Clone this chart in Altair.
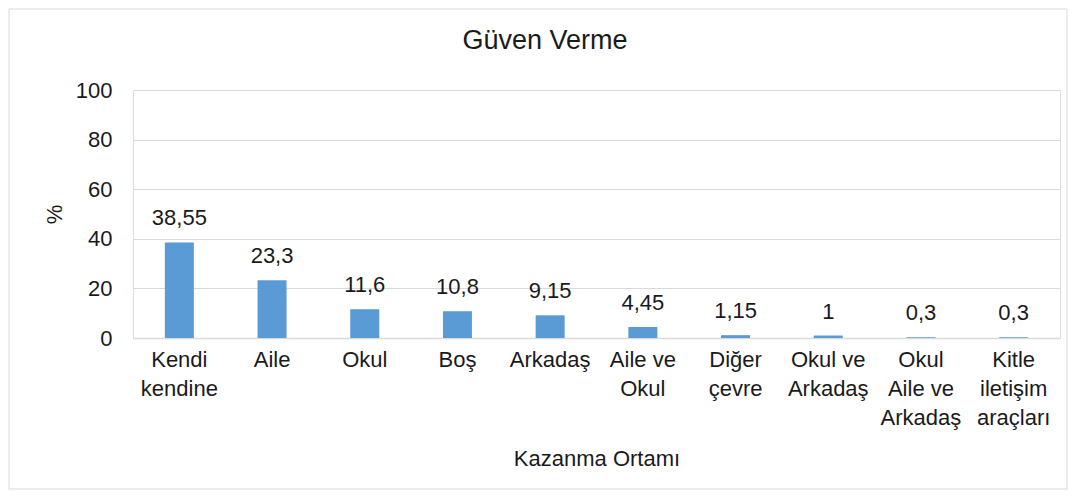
import altair as alt
import pandas as pd

categories = ["Kendi|kendine", "Aile", "Okul", "Boş", "Arkadaş", "Aile ve|Okul",
              "Diğer|çevre", "Okul ve|Arkadaş", "Okul|Aile ve|Arkadaş", "Kitle|iletişim|araçları"]
values = [38.55, 23.3, 11.6, 10.8, 9.15, 4.45, 1.15, 1, 0.3, 0.3]
value_labels = ["38,55", "23,3", "11,6", "10,8", "9,15", "4,45", "1,15", "1", "0,3", "0,3"]
y_ticks = [0, 20, 40, 60, 80, 100]
chart_title = "Güven Verme"

df = pd.DataFrame({"cat": categories, "val": values, "lab": value_labels})

FONT = "Liberation Sans"
TXT = "#1a1a1a"

x_enc = alt.X("cat:N", sort=categories,
              scale=alt.Scale(paddingInner=0, paddingOuter=0),
              axis=alt.Axis(title="Kazanma Ortamı", labelAngle=0,
                            labelExpr="split(datum.label, '|')",
                            labelFontSize=22, labelLineHeight=29, labelPadding=11,
                            labelColor=TXT, labelFont=FONT, ticks=False,
                            domainColor="#d9d9d9", domainWidth=1.5,
                            titleFontSize=22, titleFont=FONT, titleColor=TXT,
                            titleFontWeight="normal", titleY=120, titleBaseline="middle",
                            grid=False))
y_enc = alt.Y("val:Q", scale=alt.Scale(domain=[0, 100], nice=False),
              axis=alt.Axis(title="%", values=y_ticks, labelFontSize=22, labelFont=FONT,
                            labelColor=TXT, labelPadding=21, ticks=False, domain=False,
                            gridColor="#d9d9d9", gridWidth=1,
                            titleFontSize=22, titleFont=FONT, titleColor=TXT,
                            titleFontWeight="normal", titleX=-79, titleBaseline="middle"))

bars = alt.Chart(df).mark_bar(color="#5b9bd5", size=29).encode(x=x_enc, y=y_enc)
texts = alt.Chart(df).mark_text(fontSize=22, font=FONT, color=TXT, baseline="bottom", dy=-12).encode(
    x=alt.X("cat:N", sort=categories), y="val:Q", text="lab:N")
frame = alt.Chart(pd.DataFrame({"a": [0]})).mark_rect(
    fill=None, stroke="#d9d9d9", strokeWidth=1).encode(
    x=alt.value(-124), x2=alt.value(934), y=alt.value(-81), y2=alt.value(399))
title_mark = alt.Chart(pd.DataFrame({"t": [chart_title]})).mark_text(
    fontSize=27, font=FONT, color=TXT, align="center", baseline="middle").encode(
    x=alt.value(412), y=alt.value(-49), text="t:N")

chart = alt.layer(frame, bars, texts, title_mark).properties(
    width=927, height=248,
    autosize=alt.AutoSizeParams(type="none"),
    padding={"left": 125, "top": 82, "right": 8, "bottom": 152},
).configure_view(stroke=None).configure(background="white")

chart.save("out.html", embed_options={"renderer": "svg", "actions": False})
